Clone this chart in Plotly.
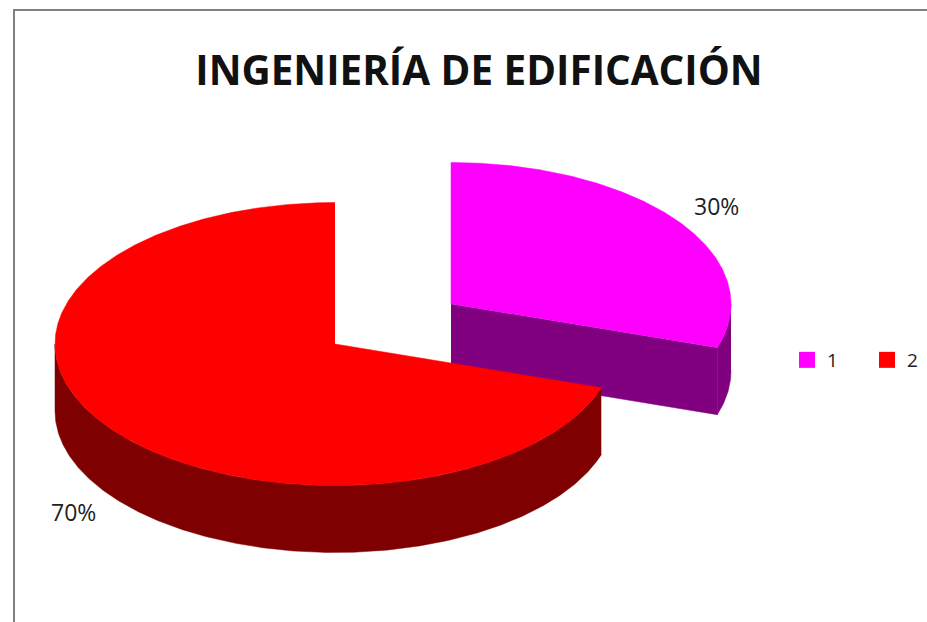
import numpy as np
import plotly.graph_objects as go

# --- data ---
title_text = "INGENIERÍA DE EDIFICACIÓN"
categories = ["1", "2"]
shares = [30, 70]
top_colors = ["#FF00FF", "#FF0000"]
side_colors = ["#800080", "#7F0000"]

# --- style / placement (page pixels) ---
W, H = 927, 622
RX, RY = 280, 141.5
DEPTH = 67
centers = [(451, 304), (335, 344)]
label_pos = [(716, 206), (73, 512)]
FRAME = "#808080"


def ell(c, deg, drop=0):
    t = np.radians(deg)
    return c[0] + RX * np.sin(t), c[1] - RY * np.cos(t) + drop


def arc(c, a0, a1, drop=0):
    n = max(2, int(abs(a1 - a0)) * 2 + 1)
    return ell(c, np.linspace(a0, a1, n), drop)


def add_poly(fig, xs, ys, color):
    fig.add_trace(go.Scatter(x=list(xs), y=list(ys), mode="lines", fill="toself",
                             fillcolor=color, line=dict(color=color, width=0.5),
                             showlegend=False, hoverinfo="skip"))


fig = go.Figure()
total = sum(shares)
start = 0.0
for share, c, top, side in zip(shares, centers, top_colors, side_colors):
    end = start + 360.0 * share / total
    # radial wall of the cut edge facing the viewer
    if 0 < end % 360 < 180 and end > 90:
        ex, ey = ell(c, end)
        add_poly(fig, [c[0], ex, ex, c[0]], [c[1], ey, ey + DEPTH, c[1] + DEPTH], side)
    # outer rim facing the viewer (angles 90..270)
    a0, a1 = max(start, 90), min(end, 270)
    if a1 > a0:
        xt, yt = arc(c, a0, a1)
        xb, yb = arc(c, a1, a0, DEPTH)
        add_poly(fig, np.r_[xt, xb], np.r_[yt, yb], side)
    # top face
    xa, ya = arc(c, start, end)
    add_poly(fig, np.r_[c[0], xa], np.r_[c[1], ya], top)
    start = end

# legend entries
for name, color in zip(categories, top_colors):
    fig.add_trace(go.Scatter(x=[None], y=[None], mode="markers", name=name,
                             marker=dict(symbol="square", size=16, color=color)))

for share, (lx, ly) in zip(shares, label_pos):
    fig.add_annotation(x=lx, y=ly, text=f"{share}%", showarrow=False,
                       font=dict(family="Open Sans", size=23, color="#222222"))

fig.update_layout(
    width=W, height=H, margin=dict(l=0, r=0, t=0, b=0, autoexpand=False),
    paper_bgcolor="white", plot_bgcolor="white",
    xaxis=dict(range=[0, W], visible=False, fixedrange=True),
    yaxis=dict(range=[H, 0], visible=False, fixedrange=True),
    title=dict(text=title_text, x=479 / W, xanchor="center", y=1 - 71 / H, yanchor="middle",
               font=dict(family="Open Sans", size=40.4, color="#111111", weight="bold")),
    legend=dict(orientation="h", x=787 / W, y=1 - 360 / H, xanchor="left", yanchor="middle",
                entrywidth=35, entrywidthmode="pixels", bgcolor="rgba(0,0,0,0)",
                font=dict(family="Open Sans", size=19, color="#222222")),
    shapes=[dict(type="path", path=f"M14,{H} L14,10 L{W},10", xref="x", yref="y",
                 line=dict(color=FRAME, width=2))],
)

fig.write_html("out.html", config=dict(displayModeBar=False),
               post_script="document.body.style.margin='0';document.documentElement.style.overflow='hidden';")
